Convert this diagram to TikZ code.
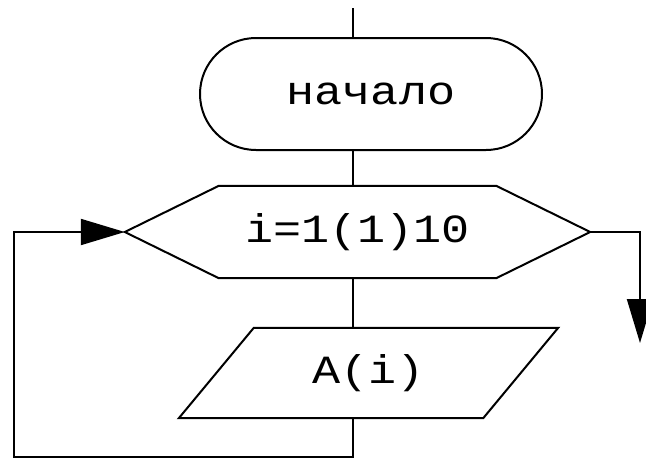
\documentclass[tikz,border=0pt]{standalone}
\usepackage{fontspec}
\setmonofont{Liberation Mono}
\usetikzlibrary{arrows.meta,shapes.misc,calc}

\tikzset{
  flowline/.style={line width=2pt, line join=miter},
  flowarrow/.style={flowline, -{Triangle[length=44pt,width=26pt]}},
  label/.style={font=\ttfamily\fontsize{40}{44}\selectfont, inner sep=0pt},
  terminal/.style={label, draw, flowline, rounded rectangle,
    minimum width=342pt, minimum height=112pt},
}
\newcommand{\wide}[1]{\scalebox{1.17}[1]{#1}}

\begin{document}
\begin{tikzpicture}[x=1pt,y=-1pt]
  \useasboundingbox (0,0) rectangle (646,461);
  \clip (0,0) rectangle (646,461);

  % flow column
  \coordinate (col) at (353,0);
  \coordinate (entry) at (353,8);

  % start terminal
  \node[terminal] (start) at (371,94) {\wide{начало}};

  % loop header (hexagon)
  \node[label, minimum width=465pt, minimum height=92pt] (loop) at (357.5,232) {\wide{i=1(1)10}};
  \draw[flowline] (loop.west) -- ($(loop.north west)+(94,0)$)
    -- ($(loop.north east)-(94,0)$) -- (loop.east)
    -- ($(loop.south east)-(94,0)$) -- ($(loop.south west)+(94,0)$) -- cycle;

  % input (parallelogram)
  \node[label, minimum width=379pt, minimum height=90pt] (io) at (368.5,373) {\wide{A(i)}};
  \draw[flowline] (io.south west) -- ($(io.north west)+(75,0)$)
    -- (io.north east) -- ($(io.south east)-(75,0)$) -- cycle;

  % loop return and exit
  \coordinate (back1) at (353,457);
  \coordinate (back2) at (14,457);
  \coordinate (rightcol) at (640,0);
  \coordinate (exit2) at (640,343);

  % connectors
  \draw[flowline] (entry) -- (col |- start.north);
  \draw[flowline] (col |- start.south) -- (col |- loop.north);
  \draw[flowline] (col |- loop.south) -- (col |- io.north);
  \draw[flowarrow] (col |- io.south) -- (back1) -- (back2)
    -- (back2 |- loop.west) -- (loop.west);
  \draw[flowarrow] (loop.east) -- (rightcol |- loop.east) -- (exit2);
\end{tikzpicture}
\end{document}
